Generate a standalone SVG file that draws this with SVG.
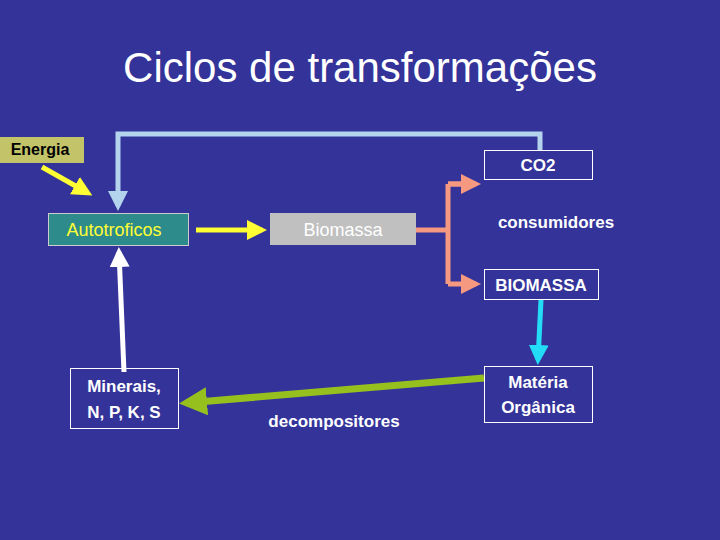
<svg xmlns="http://www.w3.org/2000/svg" width="720" height="540" viewBox="0 0 720 540">
<style>
text{font-family:"Liberation Sans",Arial,sans-serif;text-anchor:middle}
.b{fill:none;stroke:#fff;stroke-width:1}
.t{fill:#fff;font-weight:bold;font-size:17px}
</style>
<defs>
<marker id="ay" markerWidth="4" markerHeight="4" refX="3" refY="2" orient="auto"><path d="M0,0L4,2L0,4z" fill="#ffff33"/></marker>
<marker id="ab" markerWidth="4" markerHeight="4" refX="3" refY="2" orient="auto"><path d="M0,0L4,2L0,4z" fill="#b4d4ee"/></marker>
<marker id="aw" markerWidth="4" markerHeight="4" refX="3" refY="2" orient="auto"><path d="M0,0L4,2L0,4z" fill="#fff"/></marker>
<marker id="as" markerWidth="4" markerHeight="4" refX="3" refY="2" orient="auto"><path d="M0,0L4,2L0,4z" fill="#f59a80"/></marker>
<marker id="ac" markerWidth="4" markerHeight="4" refX="3" refY="2" orient="auto"><path d="M0,0L4,2L0,4z" fill="#22ddf5"/></marker>
<marker id="ag" markerWidth="4" markerHeight="4" refX="3" refY="2" orient="auto"><path d="M0,0L4,2L0,4z" fill="#96c01e"/></marker>
</defs>
<rect width="720" height="540" fill="#333399"/>
<text x="360" y="82" fill="#fff" font-size="42">Ciclos de transformações</text>
<g id="connectors" fill="none" stroke-width="5">
<path d="M540,151V134H118V206" stroke="#b4d4ee" marker-end="url(#ab)"/>
<path d="M42,167L88,193" stroke="#ffff33" marker-end="url(#ay)"/>
<path d="M196,230H262" stroke="#ffff33" marker-end="url(#ay)"/>
<path d="M416,230H448" stroke="#f59a80"/>
<path d="M448,184V284M448,184H476M448,284H476" stroke="#f59a80" marker-end="url(#as)"/>
<path d="M448,184H476" stroke="#f59a80" marker-end="url(#as)"/>
<path d="M541,300L538,360" stroke="#22ddf5" marker-end="url(#ac)"/>
<path d="M484,378L186,403" stroke="#96c01e" stroke-width="7" marker-end="url(#ag)"/>
<path d="M124,372L119,252" stroke="#fff" marker-end="url(#aw)"/>
</g>
<g id="energia"><rect x="0" y="137" width="84" height="26" fill="#c3c36a"/><text x="40" y="155" font-size="16" font-weight="bold" fill="#000">Energia</text></g>
<g id="autotroficos"><rect x="48.5" y="213.5" width="140" height="32" fill="#2e8b8b" stroke="#ccc"/><text x="114" y="236" font-size="18" fill="#ffff33">Autotroficos</text></g>
<g id="biomassa"><rect x="270" y="213" width="146" height="32" fill="#c0c0c0"/><text x="343" y="236" font-size="18" fill="#fff">Biomassa</text></g>
<g id="co2"><rect x="484.5" y="150.5" width="108" height="29" class="b"/><text x="538" y="171" class="t" font-size="16">CO2</text></g>
<g id="consumidores"><text x="556" y="228" class="t">consumidores</text></g>
<g id="biomassa2"><rect x="484.5" y="269.5" width="114" height="30" class="b"/><text x="541" y="291" class="t" font-size="16">BIOMASSA</text></g>
<g id="materia"><rect x="484.5" y="366.5" width="108" height="56" class="b"/><text x="538" y="388" class="t">Matéria</text><text x="538" y="413" class="t">Orgânica</text></g>
<g id="minerais"><rect x="70.5" y="368.5" width="108" height="60" class="b"/><text x="124" y="392" class="t">Minerais,</text><text x="124" y="418" class="t">N, P, K, S</text></g>
<g id="decompositores"><text x="334" y="427" class="t" font-size="16">decompositores</text></g>
</svg>
